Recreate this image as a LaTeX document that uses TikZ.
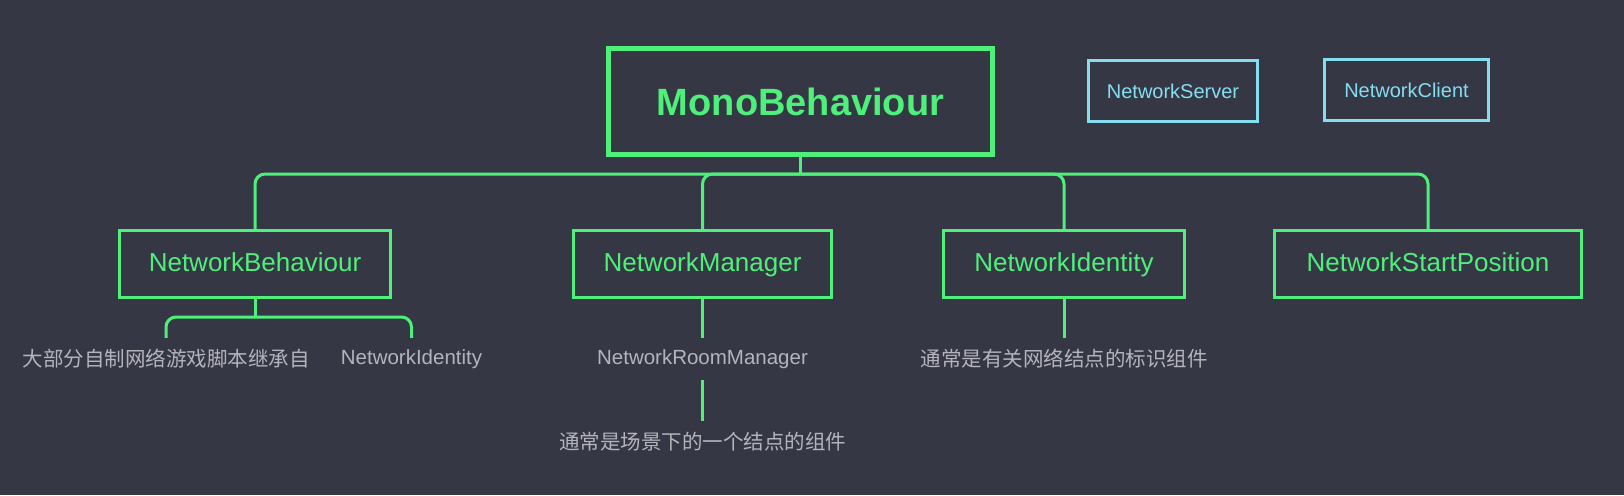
\documentclass[tikz,border=0pt]{standalone}
\usepackage{fontspec}
\usepackage{tikz}
\setmainfont{Liberation Sans}
\newfontfamily\cjk{Noto Sans CJK SC}
\definecolor{bg}{HTML}{353744}
\definecolor{leaf}{HTML}{4EF07B}
\definecolor{sky}{HTML}{84DEF0}
\definecolor{note}{HTML}{B4B4BC}
\tikzset{
	rootbox/.style={draw=leaf, line width=5pt, text=leaf, minimum width=384pt, minimum height=106pt, inner sep=0pt, font=\fontsize{38}{40}\selectfont\bfseries},
	classbox/.style={draw=leaf, line width=3pt, text=leaf, minimum height=67pt, inner sep=0pt, text height=19pt, text depth=5pt, font=\fontsize{26}{28}\selectfont},
	netbox/.style={draw=sky, line width=3pt, text=sky, minimum height=61pt, inner sep=0pt, font=\fontsize{20}{22}\selectfont},
	notetext/.style={text=note, minimum height=42pt, inner sep=0pt, font=\fontsize{20.5}{22}\selectfont},
	link/.style={draw=leaf, line width=3pt, rounded corners=10pt}
}
\begin{document}
\begin{tikzpicture}[x=1pt, y=-1pt]
		\useasboundingbox (0,0) rectangle (1624,495);
		\fill[bg] (0,0) rectangle (1624,495);
		\node[rootbox] (mono) at (800.5,101.5) {MonoBehaviour};
		\node[netbox, minimum width=169pt] (server) at (1173,91) {NetworkServer};
		\node[netbox, minimum width=164pt] (client) at (1406.5,90) {NetworkClient};
		\node[classbox, minimum width=271pt] (nb) at (255,264) {NetworkBehaviour};
		\node[classbox, minimum width=258pt] (nm) at (702.5,264) {NetworkManager};
		\node[classbox, minimum width=241pt] (ni) at (1064,264) {NetworkIdentity};
		\node[classbox, minimum width=307pt] (nsp) at (1428,264) {NetworkStartPosition};
		\node[notetext] (nbnote) at (166,359) {\cjk 大部分自制网络游戏脚本继承自};
		\node[notetext] (nbid) at (411.5,359) {NetworkIdentity};
		\node[notetext] (room) at (702.5,359) {NetworkRoomManager};
		\node[notetext] (roomnote) at (702.5,442) {\cjk 通常是场景下的一个结点的组件};
		\node[notetext] (ninote) at (1064,359) {\cjk 通常是有关网络结点的标识组件};
		\path (mono.south) ++(0,17) coordinate (bus);
		\path (nb.south) ++(0,18) coordinate (nbfork);
		\draw[link] (mono.south) -- (bus);
		\foreach \kid in {nb,nm,ni,nsp}
			\draw[link] (bus) -| (\kid.north);
		\draw[link] (nb.south) -- (nbfork);
		\draw[link] (nbfork) -| (nbnote.north);
		\draw[link] (nbfork) -| (nbid.north);
		\draw[link] (nm.south) -- (room.north);
		\draw[link] (room.south) -- (roomnote.north);
		\draw[link] (ni.south) -- (ninote.north);
\end{tikzpicture}
\end{document}
